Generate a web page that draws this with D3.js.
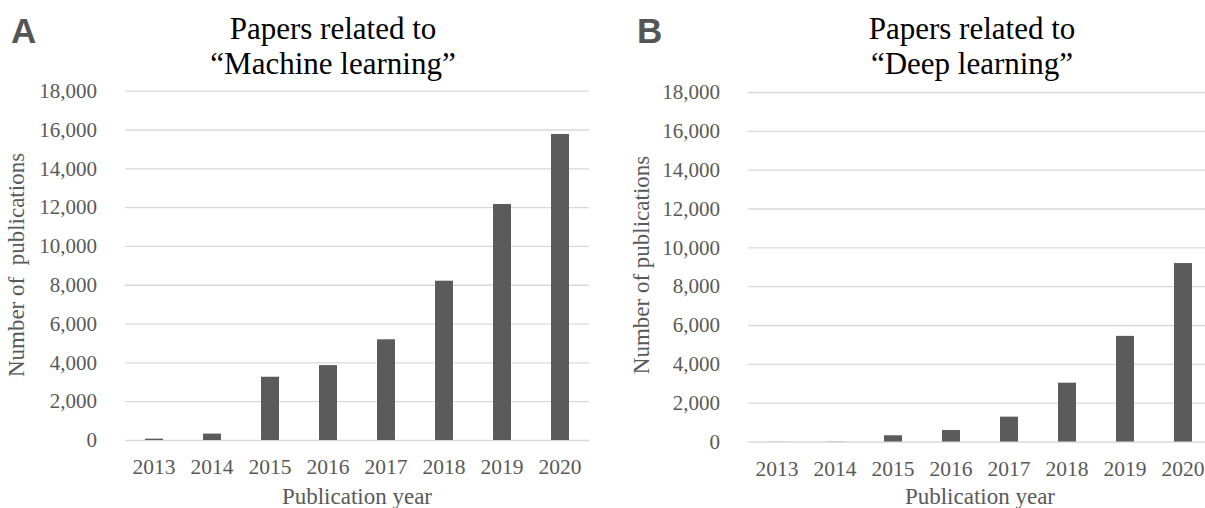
<!DOCTYPE html>
<html>
<head>
<meta charset="utf-8">
<script src="https://cdn.jsdelivr.net/npm/d3@7"></script>
<style>
  html, body { margin: 0; padding: 0; background: #fff; }
  svg { display: block; }
  text { font-family: "Liberation Serif", "Times New Roman", serif; }
</style>
</head>
<body>
<svg id="chart" width="1205" height="508"></svg>
<script>
// ---- data ----
const years = ["2013", "2014", "2015", "2016", "2017", "2018", "2019", "2020"];
const machineLearningPapers = [70, 330, 3260, 3860, 5190, 8210, 12160, 15770];
const deepLearningPapers = [4, 8, 320, 590, 1280, 3030, 5440, 9190];
const yTickValues = [0, 2000, 4000, 6000, 8000, 10000, 12000, 14000, 16000, 18000];
const panelLetters = ["A", "B"];
const titleLine1 = ["Papers related to", "Papers related to"];
const titleLine2 = ["\u201CMachine learning\u201D", "\u201CDeep learning\u201D"];
const yAxisTitles = ["Number of\u00A0\u00A0publications", "Number of publications"];
const xAxisTitle = "Publication year";

const SERIF = "'Liberation Serif', 'Times New Roman', serif";
const svg = d3.select("#chart");

const panels = [
  { values: machineLearningPapers, x0: 125, x1: 589, gridEnd: 589, yBase: 440, yTop: 90.7,
    letterX: 11, titleX: 333, yTitleX: 24, xTitleX: 357 },
  { values: deepLearningPapers, x0: 748, x1: 1212, gridEnd: 1212, yBase: 441.5, yTop: 92,
    letterX: 637, titleX: 972, yTitleX: 649, xTitleX: 980 }
];

panels.forEach((p, i) => {
  const g = svg.append("g");
  const x = d3.scaleBand().domain(years).range([p.x0, p.x1])
    .paddingInner(0.69).paddingOuter(0.345);
  const y = d3.scaleLinear().domain([0, 18000]).range([p.yBase, p.yTop]);

  // y axis with gridlines
  const yAxis = g.append("g")
    .attr("transform", `translate(${p.x0},0)`)
    .call(d3.axisLeft(y).tickValues(yTickValues).tickFormat(d3.format(","))
      .tickSize(-(p.gridEnd - p.x0)).tickPadding(28));
  yAxis.select(".domain").remove();
  yAxis.selectAll(".tick line").attr("stroke", "#d9d9d9").attr("stroke-width", 1.3);
  yAxis.selectAll(".tick text")
    .style("font-family", SERIF)
    .style("font-size", "21px").attr("fill", "#595959");

  // bars
  g.selectAll("rect.bar").data(p.values).join("rect")
    .attr("class", "bar")
    .attr("x", (d, j) => x(years[j]))
    .attr("width", x.bandwidth())
    .attr("y", d => y(d))
    .attr("height", d => y(0) - y(d))
    .attr("fill", "#5b5b5b");

  // x axis
  const xAxis = g.append("g")
    .attr("transform", `translate(0,${p.yBase})`)
    .call(d3.axisBottom(x).tickSize(0).tickPadding(19));
  xAxis.select(".domain").remove();
  xAxis.selectAll(".tick text")
    .style("font-family", SERIF)
    .style("font-size", "21.5px").attr("fill", "#595959");

  // axis titles
  g.append("text")
    .attr("transform", `translate(${p.yTitleX},265) rotate(-90)`)
    .attr("text-anchor", "middle")
    .style("font-family", SERIF)
    .style("font-size", "23px").attr("fill", "#595959")
    .text(yAxisTitles[i]);
  g.append("text")
    .attr("x", p.xTitleX).attr("y", 504)
    .attr("text-anchor", "middle")
    .style("font-family", SERIF)
    .style("font-size", "23px").attr("fill", "#595959")
    .text(xAxisTitle);

  // chart title
  g.append("text").attr("x", p.titleX).attr("y", 39)
    .attr("text-anchor", "middle")
    .style("font-family", SERIF)
    .style("font-size", "31px").attr("fill", "#000")
    .text(titleLine1[i]);
  g.append("text").attr("x", p.titleX).attr("y", 74)
    .attr("text-anchor", "middle")
    .style("font-family", SERIF)
    .style("font-size", "31px").attr("fill", "#000")
    .text(titleLine2[i]);

  // panel letter
  g.append("text").attr("x", p.letterX).attr("y", 43)
    .style("font-family", "'Liberation Sans', Arial, sans-serif")
    .style("font-size", "35px").style("font-weight", "bold").attr("fill", "#555")
    .text(panelLetters[i]);
});
</script>
</body>
</html>
